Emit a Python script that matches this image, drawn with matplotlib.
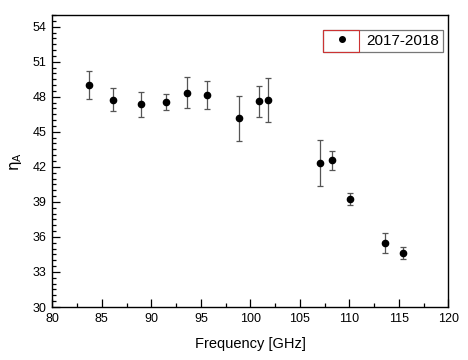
import matplotlib
matplotlib.use("Agg")
import matplotlib.pyplot as plt
from matplotlib.patches import Rectangle
from matplotlib.ticker import MultipleLocator

plt.rcParams['font.family'] = ['Liberation Sans', 'DejaVu Sans']

# data
freq = [83.7, 86.1, 89.0, 91.45, 93.55, 95.6, 98.85, 100.85, 101.75,
        107.05, 108.25, 110.05, 113.55, 115.4]
eta = [49.0, 47.75, 47.35, 47.55, 48.35, 48.15, 46.15, 47.6, 47.75,
       42.3, 42.55, 39.25, 35.45, 34.6]
err = [1.2, 1.0, 1.07, 0.7, 1.3, 1.18, 1.9, 1.33, 1.87,
       1.97, 0.8, 0.55, 0.85, 0.52]

fig = plt.figure(figsize=(4.68, 3.6), dpi=100)
ax = fig.add_axes([0.1118, 0.1472, 0.8465, 0.8111])

ax.errorbar(freq, eta, yerr=err, fmt='o', color='black', ms=4.5,
            ecolor='#555555', elinewidth=0.9, capsize=2.3, capthick=0.9)
# legend shows only the dot
ax.plot([], [], 'o', color='black', ms=4, label='2017-2018')

ax.set_xlim(80, 120)
ax.set_ylim(30, 55)
ax.xaxis.set_major_locator(MultipleLocator(5))
ax.xaxis.set_minor_locator(MultipleLocator(2.5))
ax.yaxis.set_major_locator(MultipleLocator(3))
ax.yaxis.set_minor_locator(MultipleLocator(0.5))
ax.tick_params(which='both', direction='in', top=False, right=False,
               labelsize=9, width=0.9)
ax.tick_params(which='major', length=6, pad=4)
ax.tick_params(which='minor', length=3)
for s in ax.spines.values():
    s.set_linewidth(1.0)

ax.set_xlabel('Frequency [GHz]', fontsize=10.5, labelpad=9)
ax.set_ylabel(r'$\mathrm{\eta}_\mathrm{A}$', fontsize=11, labelpad=6)

leg = ax.legend(loc='upper right', bbox_to_anchor=(0.986, 0.949),
                borderaxespad=0, fontsize=11, fancybox=False,
                edgecolor='#777777', framealpha=1, handlelength=2.0,
                handletextpad=0.6, borderpad=0.25)
leg.get_frame().set_linewidth(0.9)

fig.canvas.draw()
bb = leg.get_frame().get_window_extent().transformed(ax.transAxes.inverted())
ax.add_patch(Rectangle((bb.x0, bb.y0), 0.091, bb.height, transform=ax.transAxes,
                       fill=False, edgecolor='#cc3333', linewidth=0.8, zorder=10))

fig.savefig('out.png', dpi=100)
